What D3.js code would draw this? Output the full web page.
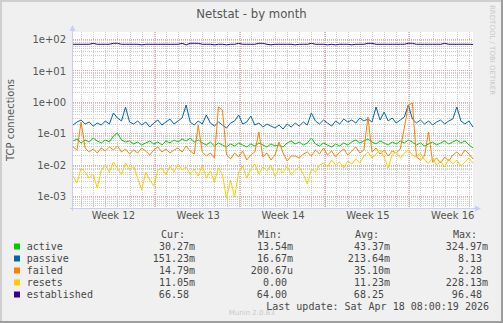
<!DOCTYPE html>
<html><head><meta charset="utf-8">
<script src="https://cdn.jsdelivr.net/npm/d3@7"></script>
<style>
html,body{margin:0;padding:0;background:#F0F0F0;}
svg{display:block;}
</style></head>
<body>
<svg id="chart" width="503" height="323"></svg>
<script>
// ---------------- data ----------------
const seriesNames = ["active","passive","failed","resets","established"];
const seriesColors = ["#00CC00","#0066B3","#FF8000","#FFCC00","#330099"];

const active = [0.0565,0.0653,0.0488,0.0607,0.0525,0.0703,0.0565,0.0488,0.0607,0.0525,
0.0814,0.101,0.0607,0.0525,0.0565,0.0453,0.0525,0.0421,0.0488,0.0565,
0.0453,0.0525,0.0421,0.0565,0.0488,0.0607,0.0525,0.0653,0.0565,0.0703,
0.0525,0.0607,0.0488,0.0421,0.0525,0.0391,0.0488,0.0421,0.0364,0.0453,
0.0391,0.0488,0.0421,0.0364,0.0453,0.0391,0.0488,0.0421,0.0364,0.0453,
0.0391,0.0421,0.0364,0.0488,0.0565,0.0453,0.0525,0.0421,0.0488,0.0703,
0.0453,0.0391,0.0488,0.0421,0.0364,0.0453,0.0391,0.0488,0.0421,0.0525,
0.0607,0.0488,0.0565,0.0653,0.0525,0.0453,0.0565,0.0488,0.0421,0.0525,
0.0453,0.0565,0.0488,0.0607,0.0525,0.0421,0.0488,0.0391,0.0453,0.0525,
0.0421,0.0488,0.0565,0.0453,0.0525,0.0607,0.0488,0.0565,0.0421,0.0338];

const passive = [0.182,0.227,0.263,0.196,0.227,0.169,0.211,0.182,0.245,0.196,
0.44,0.305,0.245,0.682,0.227,0.196,0.245,0.182,0.227,0.157,
0.211,0.263,0.182,0.227,0.283,0.196,0.245,0.305,0.79,0.227,
0.182,0.245,0.196,0.38,0.211,0.169,0.227,0.182,0.146,0.211,
0.245,0.38,0.196,0.227,0.353,0.182,0.211,0.157,0.196,0.169,
0.146,0.182,0.136,0.196,0.157,0.211,0.169,0.227,0.182,0.44,
0.245,0.196,0.263,0.211,0.169,0.245,0.196,0.283,0.227,0.263,
0.211,0.305,0.245,0.283,0.227,0.682,0.263,0.473,0.245,0.305,
0.211,0.263,0.328,0.79,0.283,0.211,0.263,0.196,0.245,0.182,
0.227,0.263,0.196,0.245,0.283,0.682,0.245,0.196,0.245,0.157];

const failed = [0.0364,0.0292,0.227,0.0338,0.0252,0.0314,0.0234,0.0338,0.0271,0.0364,
0.0292,0.0391,0.0252,0.0314,0.0218,0.0292,0.0234,0.0338,0.0271,0.0202,
0.0292,0.0364,0.0252,0.0314,0.0234,0.0292,0.0338,0.0252,0.0391,0.0271,
0.0218,0.182,0.0252,0.0188,0.0234,0.0162,0.682,0.548,0.0202,0.0151,
0.0234,0.0175,0.0271,0.0140,0.0202,0.0252,0.109,0.0175,0.0234,0.0140,
0.0202,0.0525,0.0234,0.0130,0.0188,0.0188,0.0162,0.0218,0.0252,0.0188,
0.0292,0.0218,0.0338,0.0202,0.0271,0.0175,0.0252,0.0314,0.0202,0.0271,
0.0364,0.0234,0.0292,0.328,0.0252,0.0338,0.0218,0.0292,0.0188,0.0271,
0.0234,0.0314,0.146,0.79,0.916,0.0175,0.0140,0.0188,0.109,0.0121,
0.0162,0.0112,0.0175,0.0130,0.0202,0.0252,0.0188,0.0292,0.0218,0.0151];

const resets = [0.0043,0.0026,0.0078,0.0058,0.0037,0.0050,0.0018,0.0067,0.0097,0.0058,
0.0121,0.0078,0.0047,0.0112,0.0067,0.0090,0.0037,0.00155,0.0058,0.0032,
0.0021,0.0067,0.0078,0.0047,0.0090,0.0058,0.0104,0.0067,0.0084,0.0050,
0.0072,0.0043,0.0097,0.0037,0.0063,0.0028,0.0078,0.0047,0.00086,0.0032,
0.00093,0.0058,0.0090,0.0037,0.0072,0.0104,0.0050,0.0084,0.0063,0.0097,
0.0043,0.0078,0.0054,0.0090,0.0047,0.0067,0.0084,0.0050,0.0024,0.0072,
0.0058,0.0097,0.0112,0.0084,0.0140,0.0097,0.0121,0.0078,0.0130,0.0104,
0.0151,0.0112,0.0188,0.0252,0.0162,0.0218,0.0292,0.0175,0.0078,0.0202,
0.0252,0.0162,0.0234,0.0292,0.0202,0.0175,0.0234,0.0140,0.0112,0.0162,
0.0097,0.0130,0.0084,0.0151,0.0104,0.0140,0.0090,0.0121,0.0162,0.0112];

const established = [68,68,68,68,68,73,68,68,68,68,
73,73,68,68,68,68,68,65,68,68,
68,68,68,68,68,68,68,73,65,73,
73,73,68,68,68,65,68,68,65,68,
68,73,68,68,68,68,73,73,68,65,
68,68,68,68,68,65,68,68,68,73,
68,68,68,65,68,65,68,68,68,65,
68,68,68,73,73,68,68,68,68,68,
68,68,68,73,73,68,68,68,68,68,
68,68,73,68,68,68,68,68,68,67];

const yTickValues = [1e-3,1e-2,1e-1,1e0,1e1,1e2];
const yTickLabels = ["1e-03","1e-02","1e-01","1e+00","1e+01","1e+02"];
const weekLabelFormat = "Week %V";

const legendHeaders = ["Cur:","Min:","Avg:","Max:"];
const legendCur = ["30.27m","151.23m","14.79m","11.05m","66.58"];
const legendMin = ["13.54m","16.67m","200.67u","0.00","64.00"];
const legendAvg = ["43.37m","213.64m","35.10m","11.23m","68.25"];
const legendMax = ["324.97m","8.13","2.28","228.13m","96.48"];

const title = "Netstat - by month";
const yAxisTitle = "TCP connections";
const lastUpdate = "Last update: Sat Apr 18 08:00:19 2026";
const startTime = Date.UTC(2026,2,16,8,0,0);
const endTime = Date.UTC(2026,3,18,8,0,0);
const sampleStepHours = 8;

// ---------------- drawing ----------------
const svg = d3.select("#chart");
const W = 503, H = 323;
const L = 73, R = 473, T = 32, B = 208.5;

svg.append("rect").attr("width",W).attr("height",H).attr("fill","#F0F0F0");
// frame
svg.append("rect").attr("x",0).attr("y",0).attr("width",W).attr("height",2).attr("fill","#CFCFCF");
svg.append("rect").attr("x",0).attr("y",0).attr("width",2).attr("height",H).attr("fill","#CFCFCF");
svg.append("rect").attr("x",0).attr("y",H-2).attr("width",W).attr("height",2).attr("fill","#9E9E9E");
svg.append("rect").attr("x",W-2).attr("y",0).attr("width",2).attr("height",H).attr("fill","#9E9E9E");

// plot bg
svg.append("rect").attr("x",L).attr("y",T).attr("width",R-L).attr("height",B-T).attr("fill","#FFFFFF");

const x = d3.scaleUtc().domain([new Date(startTime), new Date(endTime)]).range([L, R]);
const y = d3.scaleLog().domain([1e-3, 1e2]).range([196, 39]);

const times = active.map((_, i) => new Date(startTime + i*sampleStepHours*3600*1000));

const grid = svg.append("g");
const minorColor = "#CCCCCC", majorColor = "#E6AAAA";
// minor horizontal grid
const minorVals = [];
for (let e = -4; e <= 2; e++) for (let m = 2; m <= 9; m++) {
  const v = m * Math.pow(10, e);
  const py = y(v);
  if (py >= T && py <= B) minorVals.push(v);
}
grid.selectAll("line.hmin").data(minorVals).join("line")
  .attr("x1",L).attr("x2",R)
  .attr("y1",d=>Math.round(y(d))+0.5).attr("y2",d=>Math.round(y(d))+0.5)
  .attr("stroke",minorColor).attr("stroke-dasharray","1,1");
// minor vertical (days)
const days = d3.utcDay.range(new Date(startTime), new Date(endTime));
grid.selectAll("line.vmin").data(days).join("line")
  .attr("y1",T).attr("y2",B)
  .attr("x1",d=>Math.round(x(d))+0.5).attr("x2",d=>Math.round(x(d))+0.5)
  .attr("stroke",minorColor).attr("stroke-dasharray","1,1");
// major horizontal
grid.selectAll("line.hmaj").data(yTickValues).join("line")
  .attr("x1",L).attr("x2",R)
  .attr("y1",d=>Math.round(y(d))+0.5).attr("y2",d=>Math.round(y(d))+0.5)
  .attr("stroke",majorColor).attr("stroke-dasharray","1,1");
// major vertical (weeks)
const weeks = d3.utcMonday.range(new Date(startTime), new Date(endTime)).filter(d=>x(d)>L+2);
grid.selectAll("line.vmaj").data(weeks).join("line")
  .attr("y1",T).attr("y2",B)
  .attr("x1",d=>Math.round(x(d))+1.5).attr("x2",d=>Math.round(x(d))+1.5)
  .attr("stroke",majorColor).attr("stroke-dasharray","1,1");

// axes lines + arrows
const axisColor = "#C9CFF2";
svg.append("line").attr("x1",72.5).attr("x2",72.5).attr("y1",211).attr("y2",29).attr("stroke",axisColor);
svg.append("path").attr("d","M69.5,31 L75.5,31 L72.5,25 Z").attr("fill",axisColor);
svg.append("line").attr("x1",70).attr("x2",477).attr("y1",208.5).attr("y2",208.5).attr("stroke",axisColor);
svg.append("path").attr("d","M475,205.5 L475,211.5 L481,208.5 Z").attr("fill",axisColor);

// y axis labels
const yAxis = d3.axisLeft(y).tickValues(yTickValues)
  .tickFormat((d,i)=>yTickLabels[i]).tickSize(0).tickPadding(0);
const ya = svg.append("g").attr("transform","translate(66,0)").call(yAxis);
ya.select(".domain").remove();
ya.selectAll("text").attr("font-family","DejaVu Sans").attr("font-size","10px").attr("fill","#555").attr("dy","0.36em");

// x axis labels (week labels at mid-week)
const weekStarts = d3.utcMonday.range(d3.utcMonday.floor(new Date(startTime)), new Date(endTime));
const weekMids = weekStarts.map(d=>new Date(+d + 3.5*86400000)).filter(d=>x(d)>L && x(d)<R);
const xAxis = d3.axisBottom(x).tickValues(weekMids).tickFormat(d3.utcFormat(weekLabelFormat)).tickSize(0).tickPadding(0);
const xa = svg.append("g").attr("transform","translate(1.5,212)").call(xAxis);
xa.select(".domain").remove();
xa.selectAll("text").attr("font-family","DejaVu Sans").attr("font-size","10px").attr("fill","#555").attr("dy","0.71em");

// series
const allSeries = [active, passive, failed, resets, established];
const line = d3.line().x((d,i)=>x(times[i])).y(d=>y(d));
const plot = svg.append("g");
allSeries.forEach((s, k) => {
  plot.append("path").datum(s).attr("d", line)
    .attr("fill","none").attr("stroke",seriesColors[k]).attr("stroke-width",1)
    .attr("stroke-linejoin","round");
});

// title
svg.append("text").attr("x",251.5).attr("y",18).attr("text-anchor","middle")
  .attr("font-family","DejaVu Sans").attr("font-size","11.7px").attr("fill","#555").text(title);
// y axis title
svg.append("text").attr("transform","translate(14,120) rotate(-90)").attr("text-anchor","middle")
  .attr("font-family","DejaVu Sans").attr("font-size","10px").attr("fill","#555").text(yAxisTitle);
// rrdtool watermark
svg.append("text").attr("transform","translate(490,5) rotate(90)")
  .attr("font-family","DejaVu Sans").attr("font-size","7px").attr("fill","#C8C8C8").text("RRDTOOL / TOBI OETIKER");

// legend
const mono = "DejaVu Sans Mono";
const lg = svg.append("g").attr("font-family",mono).attr("font-size","10px").attr("fill","#484848");
const headerX = [161, 258, 355, 453];
legendHeaders.forEach((h,i)=>lg.append("text").attr("x",headerX[i]).attr("y",237.5).text(h));
const colRight = [195, 293, 390, 488];
const cols = [legendCur, legendMin, legendAvg, legendMax];
const charW = 6.02;
seriesNames.forEach((name, r) => {
  const by = 249.5 + r*12;
  lg.append("rect").attr("x",14).attr("y",by-6).attr("width",6).attr("height",6).attr("fill",seriesColors[r]);
  lg.append("text").attr("x",26.7).attr("y",by).text(name);
  cols.forEach((col, c) => {
    const s = col[r];
    const hasUnit = /[a-zA-Z]$/.test(s);
    lg.append("text").attr("x", colRight[c] - (hasUnit?0:charW)).attr("y",by).attr("text-anchor","end").text(s);
  });
});
lg.append("text").attr("x",489).attr("y",309.5).attr("text-anchor","end").text(lastUpdate);
svg.append("text").attr("x",251.7).attr("y",315).attr("text-anchor","middle")
  .attr("font-family","DejaVu Sans").attr("font-size","7px").attr("fill","#C8C8C8").text("Munin 2.0.63");
</script>
</body></html>
